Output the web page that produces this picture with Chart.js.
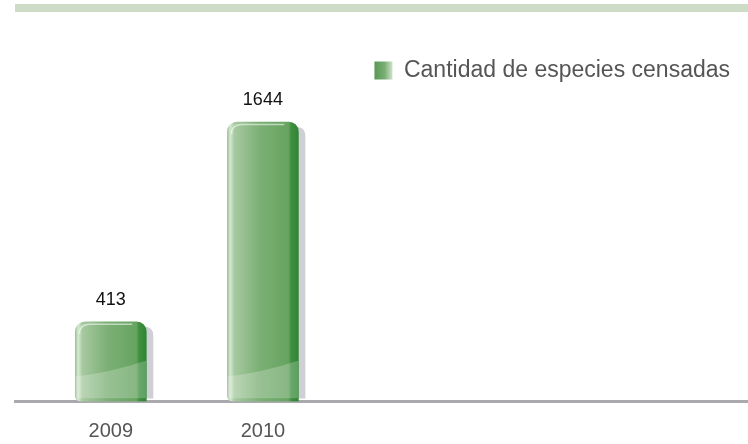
<!DOCTYPE html>
<html><head><meta charset="utf-8">
<script src="https://cdn.jsdelivr.net/npm/chart.js@4.4.0/dist/chart.umd.min.js"></script>
<style>html,body{margin:0;padding:0;background:#fff}#wrap{width:748px;height:444px}</style>
</head><body><div id="wrap"><canvas id="c" width="748" height="444"></canvas></div>
<script>
const categories = ['2009', '2010'];
const years = [2009, 2010];
const speciesCount = [413, 1644];
const seriesLabel = 'Cantidad de especies censadas';
const yMin = -78, yMax = 1829;
const xMin = 2008.37, xMax = 2013.19;

const FONT = "'Liberation Sans', Arial, sans-serif";
const BAR_W = 71;

function barGradient(ctx) {
  const chart = ctx.chart;
  const xs = chart.scales && chart.scales.x;
  if (!xs || ctx.dataIndex === undefined || ctx.type !== 'data') return '#6fa86a';
  const cx = xs.getPixelForValue(years[ctx.dataIndex]);
  if (!isFinite(cx)) return '#6fa86a';
  const x0 = cx - BAR_W / 2, x1 = cx + BAR_W / 2;
  const g = chart.ctx.createLinearGradient(x0, 0, x1, 0);
  g.addColorStop(0, '#9cc494');
  g.addColorStop(0.04, '#d6e8d2');
  g.addColorStop(0.1, '#a6c99f');
  g.addColorStop(0.45, '#7cb076');
  g.addColorStop(0.86, '#66a360');
  g.addColorStop(0.9, '#3e8f3f');
  g.addColorStop(1, '#2f8534');
  return g;
}

function rr(c, x, y, w, h, r) {
  c.beginPath();
  c.moveTo(x + r, y);
  c.lineTo(x + w - r, y);
  c.quadraticCurveTo(x + w, y, x + w, y + r);
  c.lineTo(x + w, y + h);
  c.lineTo(x, y + h);
  c.lineTo(x, y + r);
  c.quadraticCurveTo(x, y, x + r, y);
  c.closePath();
}

const decor = {
  id: 'decor',
  afterLayout(chart) {
    const lg = chart.legend;
    if (lg) { lg.left -= 8; lg.right -= 8; }
  },
  beforeDraw(chart) {
    const c = chart.ctx;
    c.save();
    c.fillStyle = '#cddcc6';
    c.fillRect(15, 4, chart.width - 15, 8);
    c.restore();
  },
  beforeDatasetsDraw(chart) {
    const c = chart.ctx;
    const meta = chart.getDatasetMeta(0);
    c.save();
    meta.data.forEach(bar => {
      const p = bar.getProps(['x', 'y', 'base', 'width'], true);
      const x = p.x - p.width / 2 + 7, y = p.y + 5;
      rr(c, x, y, p.width, p.base - y - 3, 9);
      c.fillStyle = '#cfd0d5';
      c.fill();
    });
    c.restore();
  },
  afterDatasetsDraw(chart) {
    const c = chart.ctx;
    const meta = chart.getDatasetMeta(0);
    c.save();
    meta.data.forEach((bar, i) => {
      const p = bar.getProps(['x', 'y', 'base', 'width'], true);
      const l = p.x - p.width / 2, r = p.x + p.width / 2;
      const bottom = p.base - 3;
      c.save();
      rr(c, l, p.y, p.width, bottom - p.y, 10);
      c.clip();
      c.beginPath();
      c.moveTo(l, bottom - 22);
      c.quadraticCurveTo(p.x, bottom - 26, r, bottom - 38);
      c.lineTo(r, bottom);
      c.lineTo(l, bottom);
      c.closePath();
      c.fillStyle = 'rgba(255,255,255,0.22)';
      c.fill();
      c.strokeStyle = 'rgba(255,255,255,0.55)';
      c.lineWidth = 1.5;
      c.beginPath();
      c.moveTo(l + 4, p.y + 12);
      c.quadraticCurveTo(l + 4, p.y + 3, l + 14, p.y + 2.5);
      c.lineTo(r - 14, p.y + 2.5);
      c.stroke();
      c.restore();
      c.fillStyle = '#111';
      c.font = '18px ' + FONT;
      c.textAlign = 'center';
      c.textBaseline = 'alphabetic';
      c.fillText(String(speciesCount[i]), p.x, p.y - 17);
    });
    c.restore();
  },
  afterDraw(chart) {
    const lg = chart.legend;
    if (!lg || !lg.legendHitBoxes || !lg.legendHitBoxes.length) return;
    const hb = lg.legendHitBoxes[0];
    const c = chart.ctx;
    const bx = hb.left, by = hb.top + (hb.height - 18) / 2;
    if (!isFinite(bx) || !isFinite(by)) return;
    const g = c.createLinearGradient(bx, 0, bx + 18, 0);
    g.addColorStop(0, '#5a9855');
    g.addColorStop(0.55, '#78ad72');
    g.addColorStop(1, '#cfe2ca');
    c.save();
    c.fillStyle = '#fff';
    c.fillRect(bx - 1, by - 1, 20, 20);
    c.fillStyle = g;
    c.fillRect(bx, by, 18, 18);
    c.restore();
  }
};

new Chart(document.getElementById('c'), {
  type: 'bar',
  data: {
    datasets: [{
      label: seriesLabel,
      data: years.map((yr, i) => ({ x: yr, y: speciesCount[i] })),
      backgroundColor: barGradient,
      borderWidth: 0,
      borderSkipped: false,
      borderRadius: { topLeft: 10, topRight: 10, bottomLeft: 6, bottomRight: 0 },
      barThickness: BAR_W,
      base: yMin
    }]
  },
  options: {
    responsive: false,
    animation: false,
    layout: { padding: { left: 15, right: 0, top: 49, bottom: 0 } },
    scales: {
      x: {
        type: 'linear',
        offset: false,
        min: xMin, max: xMax,
        afterBuildTicks(scale) { scale.ticks = years.map(v => ({ value: v })); },
        afterFit(scale) { scale.height = 42.5; },
        grid: { display: false, drawTicks: false },
        border: { display: true, color: '#a9a9ae', width: 3 },
        ticks: {
          padding: 18,
          color: '#555',
          font: { family: FONT, size: 20 },
          callback: (v) => { const i = years.indexOf(v); return i >= 0 ? categories[i] : ''; },
          autoSkip: false, maxRotation: 0
        }
      },
      y: { display: false, min: yMin, max: yMax }
    },
    plugins: {
      legend: {
        position: 'top',
        align: 'end',
        labels: {
          boxWidth: 18, boxHeight: 18,
          color: '#555',
          font: { family: FONT, size: 23 },
          padding: 10
        }
      },
      tooltip: { enabled: false }
    }
  },
  plugins: [decor]
});
</script></body></html>
